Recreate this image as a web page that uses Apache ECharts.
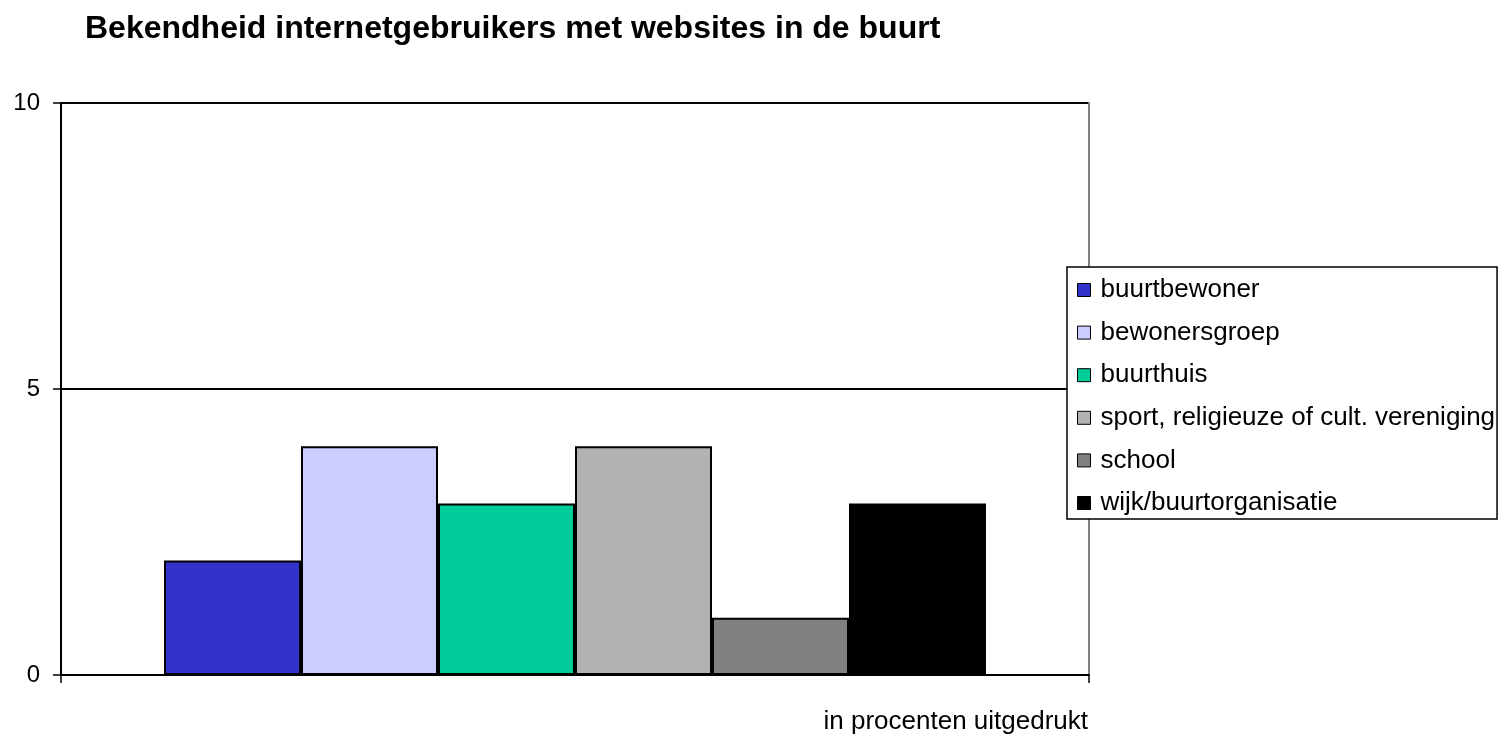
<!DOCTYPE html>
<html>
<head>
    <meta charset="utf-8">
    <title>Bekendheid internetgebruikers met websites in de buurt</title>
    <style>
        html, body { margin: 0; padding: 0; background: #fff; }
        #chart-container { width: 1510px; height: 744px; }
    </style>
    <script src="https://cdn.jsdelivr.net/npm/echarts@6/dist/echarts.min.js"></script>
</head>
<body>
    <div id="chart-container"></div>
    <script>
        // gegevens
        const categories = [''];
        const seriesNames = ['buurtbewoner', 'bewonersgroep', 'buurthuis', 'sport, religieuze of cult. vereniging', 'school', 'wijk/buurtorganisatie'];
        const seriesValues = [2, 4, 3, 4, 1, 3];
        const seriesColors = ['#3333CC', '#CCCCFF', '#00CC99', '#B2B2B2', '#808080', '#000000'];
        const yTicks = [0, 5, 10];

        var dom = document.getElementById('chart-container');
        var myChart = echarts.init(dom, null, { renderer: 'canvas' });
        var font = 'Liberation Sans, Arial, sans-serif';

        var series = seriesNames.map(function (name, i) {
            return {
                name: name,
                type: 'bar',
                data: [seriesValues[i]],
                barWidth: 137,
                barGap: '0%',
                itemStyle: { color: seriesColors[i], borderColor: '#000', borderWidth: 2 }
            };
        });

        var option = {
            animation: false,
            textStyle: { fontFamily: font },
            title: {
                text: 'Bekendheid internetgebruikers met websites in de buurt',
                left: 80,
                top: 8,
                textStyle: { fontFamily: font, fontSize: 32, fontWeight: 'bold', color: '#000' }
            },
            grid: { left: 61, right: 421, top: 103, bottom: 69 },
            legend: {
                orient: 'vertical',
                left: 1067,
                top: 267,
                padding: [10, 2, 3, 10],
                itemWidth: 13,
                itemHeight: 13,
                itemGap: 16.6,
                borderColor: '#000',
                borderWidth: 1.5,
                backgroundColor: '#fff',
                icon: 'rect',
                itemStyle: { borderColor: '#000', borderWidth: 1 },
                textStyle: { fontFamily: font, fontSize: 26, color: '#000', padding: [0, 0, 0, 5] },
                data: seriesNames
            },
            xAxis: {
                type: 'category',
                data: categories,
                axisLine: { lineStyle: { color: '#000', width: 2 } },
                axisTick: { show: true, length: 8, lineStyle: { color: '#000', width: 1.5 } },
                axisLabel: { show: false }
            },
            yAxis: [{
                type: 'value',
                min: yTicks[0],
                max: yTicks[yTicks.length - 1],
                interval: 5,
                axisLine: { show: true, lineStyle: { color: '#000', width: 2 } },
                axisTick: { show: true, length: 8, lineStyle: { color: '#000', width: 1.5 } },
                axisLabel: { fontFamily: font, fontSize: 24, color: '#000', margin: 21 },
                splitLine: { lineStyle: { color: '#000', width: 2 } }
            }, {
                type: 'value',
                position: 'right',
                min: yTicks[0],
                max: yTicks[yTicks.length - 1],
                interval: 5,
                axisLine: { show: true, lineStyle: { color: '#808080', width: 2 } },
                axisTick: { show: false },
                axisLabel: { show: false },
                splitLine: { show: false }
            }],
            graphic: [{
                type: 'text',
                right: 422,
                top: 709,
                style: { text: 'in procenten uitgedrukt', font: '26px ' + font, fill: '#000' }
            }],
            series: series
        };

        myChart.setOption(option);
        window.addEventListener('resize', myChart.resize);
    </script>
</body>
</html>
